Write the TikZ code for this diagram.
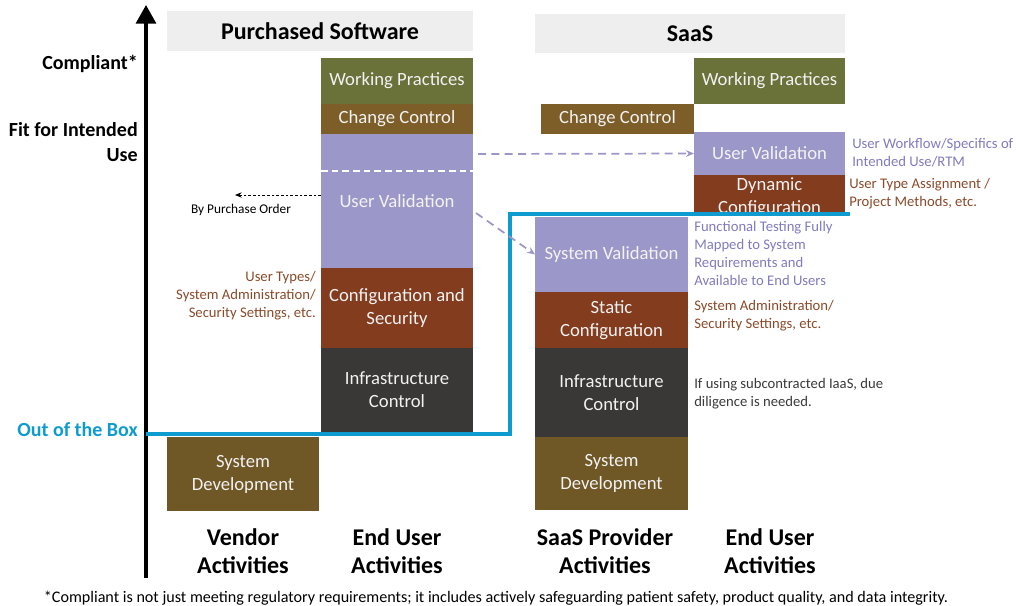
\documentclass[tikz,border=0pt]{standalone}
\usepackage{fontspec}
\setmainfont{Carlito}
\usetikzlibrary{arrows.meta}
\definecolor{olive}{HTML}{6A723A}
\definecolor{ccbrown}{HTML}{7E5E28}
\definecolor{lav}{HTML}{9B97C8}
\definecolor{rust}{HTML}{843C1E}
\definecolor{dark}{HTML}{3A3836}
\definecolor{sdbrown}{HTML}{6F5726}
\definecolor{ttlgray}{HTML}{EEEEEE}
\definecolor{oobblue}{HTML}{0E9BD0}
\definecolor{lavtext}{HTML}{7F7BBE}
\definecolor{rusttext}{HTML}{8A4A2A}
\definecolor{darktext}{HTML}{3A3A3A}
\begin{document}
\begin{tikzpicture}[x=0.75pt,y=-0.75pt,
  blk/.style={inner sep=0pt, outer sep=0pt, text=white!95!black, align=center,
    font=\fontsize{14}{17.25}\selectfont, minimum width=114pt},
  ttl/.style={fill=ttlgray, inner sep=0pt, outer sep=0pt, minimum height=30pt,
    font=\bfseries\fontsize{18}{22}\selectfont},
  side/.style={inner sep=0pt, font=\fontsize{11}{13.4}\selectfont},
  lbl/.style={inner sep=0pt, align=center, font=\bfseries\fontsize{18}{21}\selectfont},
  axl/.style={inner sep=0pt, align=right, anchor=east, font=\bfseries\fontsize{15}{18.75}\selectfont},
  lavarrow/.style={draw=lav, line width=1.3pt, dash pattern=on 6pt off 4pt, -{Stealth[length=6pt,width=5pt]}},
  poarrow/.style={draw=black, line width=0.6pt, dash pattern=on 2pt off 1.5pt, -{Stealth[length=5pt,width=4pt]}},
  oob/.style={draw=oobblue, line width=2.3pt},
]
\useasboundingbox (0,0) rectangle (1016,606);

% titles
\node[ttl, minimum width=229.5pt] (t1) at (320,31) {Purchased Software};
\node[ttl, minimum width=232.5pt, minimum height=29.25pt] (t2) at (690,33.5) {SaaS};

% purchased software - end user column
\node[blk, fill=olive, minimum height=34.5pt] (wp1) at (397,81) {Working Practices};
\node[blk, fill=ccbrown, minimum height=22.5pt] (cc1) at (397,119) {Change Control};
\node[blk, fill=lav, minimum height=100.5pt] (uv1) at (397,201) {User Validation};
\node[blk, fill=rust, minimum height=60pt] (cs1) at (397,308) {Configuration and\\Security};
\node[blk, fill=dark, minimum height=63pt] (ic1) at (397,390) {Infrastructure\\Control};
% vendor
\node[blk, fill=sdbrown, minimum height=55.5pt] (sd1) at (243,474) {System\\Development};

% SaaS
\node[blk, fill=olive, minimum width=113.25pt, minimum height=34.5pt] (wp2) at (769.5,81) {Working Practices};
\node[blk, fill=ccbrown, minimum width=114.75pt, minimum height=22.5pt] (cc2) at (617.5,119) {Change Control};
\node[blk, fill=lav, minimum width=113.25pt, minimum height=32.25pt] (uv2) at (769.5,153.5) {User Validation};
\node[blk, fill=rust, minimum width=113.25pt, minimum height=28.5pt] (dc2) at (769.5,194) {};
\node[blk] (dc2t) at (769.5,197.5) {Dynamic\\Configuration};
\node[blk, fill=lav, minimum width=114.75pt, minimum height=56.25pt] (sv2) at (611.5,254.5) {System Validation};
\node[blk, fill=rust, minimum width=114.75pt, minimum height=42pt] (st2) at (611.5,320) {Static\\Configuration};
\node[blk, fill=dark, minimum width=114.75pt, minimum height=66.75pt] (ic2) at (611.5,392.5) {Infrastructure\\Control};
\node[blk, fill=sdbrown, minimum width=114.75pt, minimum height=54.75pt] (sd2) at (611.5,473.5) {System\\Development};

% dashed white separator in user validation
\draw[white, line width=0.9pt, dash pattern=on 5pt off 3pt] (uv1.west |- 0,171) -- (uv1.east |- 0,171);

% axis
\coordinate (ax0) at (146,578);
\coordinate (ax1) at (146,5);
\draw[line width=2.4pt, -{Triangle[width=15pt,length=14pt]}] (ax0) -- (ax1);

% axis labels
\node[axl] (comp) at (138,64) {Compliant*};
\node[axl] (fit) at (138,142.5) {Fit for Intended\\Use};
\node[axl, text=oobblue] (oobl) at (138,430) {Out of the Box};

% out of the box line
\coordinate (b0) at (146,434);
\coordinate (b1) at (510,434);
\coordinate (b2) at (510,214);
\coordinate (b3) at (850,214);
\draw[oob] (b0) -- (b1) -- (b2) -- (b3);

% dashed lavender arrows
\coordinate (a1) at (478,154);
\draw[lavarrow] (a1) -- (uv2.west);
\coordinate (a2) at (476,213);
\draw[lavarrow] (a2) -- (sv2.west);

% by purchase order
\coordinate (po) at (235,195);
\draw[poarrow] (uv1.west |- po) -- (po);
\node[inner sep=0pt, font=\fontsize{10}{12}\selectfont] (pot) at (241,210) {By Purchase Order};

% side notes
\node[side, anchor=east, align=right, text=rusttext] (n1) at (316,296) {User Types/\\System Administration/\\Security Settings, etc.};
\node[side, anchor=west, align=left, text=lavtext] (n2) at (852,152.5) {User Workflow/Specifics of\\Intended Use/RTM};
\node[side, anchor=west, align=left, text=rusttext] (n3) at (849,193.5) {User Type Assignment /\\Project Methods, etc.};
\node[side, anchor=west, align=left, text=lavtext] (n4) at (694,253.5) {Functional Testing Fully\\Mapped to System\\Requirements and\\Available to End Users};
\node[side, anchor=west, align=left, text=rusttext] (n5) at (694,316) {System Administration/\\Security Settings, etc.};
\node[side, anchor=west, align=left, text=darktext] (n6) at (694,394) {If using subcontracted IaaS, due\\diligence is needed.};

% bottom labels
\node[lbl] (l1) at (243,551) {Vendor\\Activities};
\node[lbl] (l2) at (397,551) {End User\\Activities};
\node[lbl] (l3) at (605,551) {SaaS Provider\\Activities};
\node[lbl] (l4) at (770,551) {End User\\Activities};

% footnote
\node[inner sep=0pt, font=\fontsize{12.1}{14}\selectfont] (fn) at (496,598) {*Compliant is not just meeting regulatory requirements; it includes actively safeguarding patient safety, product quality, and data integrity.};
\end{tikzpicture}
\end{document}
